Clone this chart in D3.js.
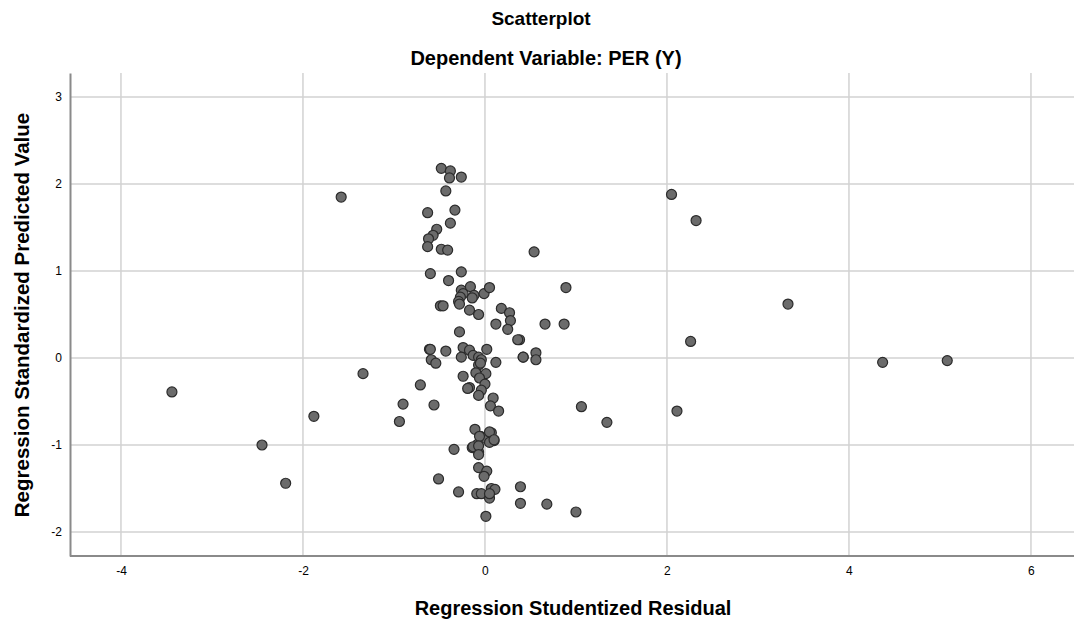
<!DOCTYPE html>
<html>
<head>
<meta charset="utf-8">
<script src="https://cdn.jsdelivr.net/npm/d3@7"></script>
<style>
  body { margin: 0; background: #fff; }
  svg { display: block; font-family: "Liberation Sans", Arial, sans-serif; }
</style>
</head>
<body>
<div id="chart"></div>
<script>
// Studentized residual (x) vs standardized predicted value (y)
const residuals = [
  -3.44, -2.45, -2.19, -1.88, -1.34, -1.58, -0.71, -0.90, -0.94, -0.56,
  -0.61, -0.59, -0.54, -0.51, -0.49,
  2.05, 2.32, 0.54, 0.89, 0.66, 0.87, 2.26, 0.38, 0.42, 0.56, 0.56,
  1.06, 1.34, 2.11, 3.33, 4.37, 5.08,
  -0.11, 0.07, -0.05, 0.00, 0.10, 0.05, -0.08, -0.14, -0.07, -0.34,
  -0.07, 0.02, -0.01, -0.29, -0.09, -0.04, 0.07, 0.11, 0.05, 0.39,
  0.39, 0.68, 1.00, 0.01, 0.05,
  -0.60, -0.26, -0.40, -0.26, -0.24, -0.16, -0.12, -0.14, -0.27, -0.29,
  -0.28, -0.01, 0.05, -0.46, -0.17, -0.07, 0.18, 0.27, 0.28, 0.12,
  0.25, 0.36, -0.28, -0.60, -0.43, -0.24, -0.17, 0.02, -0.26, -0.13,
  -0.07, -0.04, 0.12, 0.42, -0.07,
  -0.05, -0.10, 0.01, -0.24, -0.06, 0.00, -0.17, -0.19, -0.04, -0.07,
  0.09, 0.06, 0.15, 0.05, 0.10, -0.06, -0.13, -0.07, -0.07,
  -0.48, -0.38, -0.39, -0.26, -0.43, -0.63, -0.33, -0.38, -0.53, -0.57,
  -0.62, -0.63, -0.48, -0.41
];
const predicted = [
  -0.39, -1.00, -1.44, -0.67, -0.18, 1.85, -0.31, -0.53, -0.73, -0.54,
  0.10, -0.02, -0.06, -1.39, 0.60,
  1.88, 1.58, 1.22, 0.81, 0.39, 0.39, 0.19, 0.21, 0.01, 0.06, -0.02,
  -0.56, -0.74, -0.61, 0.62, -0.05, -0.03,
  -0.82, -0.86, -0.90, -0.92, -0.95, -0.97, -0.99, -1.03, -1.08, -1.05,
  -1.26, -1.30, -1.36, -1.54, -1.56, -1.56, -1.50, -1.51, -1.61, -1.48,
  -1.67, -1.68, -1.77, -1.82, -1.56,
  0.97, 0.99, 0.89, 0.78, 0.74, 0.82, 0.72, 0.69, 0.70, 0.65,
  0.62, 0.74, 0.81, 0.60, 0.55, 0.50, 0.57, 0.52, 0.43, 0.39,
  0.33, 0.21, 0.30, 0.10, 0.08, 0.12, 0.09, 0.10, 0.01, 0.03,
  0.01, -0.02, -0.05, 0.01, -0.08,
  -0.06, -0.17, -0.18, -0.21, -0.23, -0.30, -0.34, -0.35, -0.37, -0.43,
  -0.46, -0.55, -0.61, -0.85, -0.94, -0.90, -1.02, -1.01, -1.11,
  2.18, 2.15, 2.07, 2.08, 1.92, 1.67, 1.70, 1.55, 1.48, 1.41,
  1.37, 1.28, 1.25, 1.24
];
const xTicks = [-4, -2, 0, 2, 4, 6];
const yTicks = [-2, -1, 0, 1, 2, 3];

const points = residuals.map((r, i) => ({ x: r, y: predicted[i] }));

const width = 1074, height = 621;
const plot = { left: 70, top: 73, bottom: 556 };
const fmt = d => String(d); // plain hyphen minus, no decimals

const svg = d3.select("#chart").append("svg")
  .attr("width", width)
  .attr("height", height);

const x = d3.scaleLinear().domain([-4.56, 6.56]).range([plot.left, plot.left + 11.12 * 91]);
const y = d3.scaleLinear().domain([-2.276, 3.276]).range([plot.bottom, plot.top]);

// ── Gridlines ──
svg.append("g")
  .selectAll("line")
  .data(xTicks)
  .join("line")
  .attr("x1", d => x(d)).attr("x2", d => x(d))
  .attr("y1", plot.top).attr("y2", plot.bottom)
  .attr("stroke", "#d2d2d2")
  .attr("stroke-width", 1.5);

svg.append("g")
  .selectAll("line")
  .data(yTicks)
  .join("line")
  .attr("x1", plot.left).attr("x2", width)
  .attr("y1", d => y(d)).attr("y2", d => y(d))
  .attr("stroke", "#d2d2d2")
  .attr("stroke-width", 1.5);

// ── Axes ──
const xAxis = svg.append("g")
  .attr("transform", `translate(0,${plot.bottom})`)
  .call(d3.axisBottom(x).tickValues(xTicks).tickFormat(fmt).tickSize(0).tickPadding(10));
const yAxis = svg.append("g")
  .attr("transform", `translate(${plot.left},0)`)
  .call(d3.axisLeft(y).tickValues(yTicks).tickFormat(fmt).tickSize(0).tickPadding(8));

[xAxis, yAxis].forEach(g => {
  g.select(".domain").attr("stroke", "#8a8a8a").attr("stroke-width", 2);
  g.selectAll("text")
    .attr("fill", "#000")
    .attr("font-size", "12px")
    .attr("font-family", "'Liberation Sans', Arial, sans-serif");
});
xAxis.select(".domain").attr("d", `M${plot.left},0H${width}`);

// ── Points ──
svg.append("g")
  .selectAll("circle")
  .data(points)
  .join("circle")
  .attr("cx", d => x(d.x))
  .attr("cy", d => y(d.y))
  .attr("r", 5)
  .attr("fill", "#6b6b6b")
  .attr("stroke", "#2b2b2b")
  .attr("stroke-width", 1.2);

// ── Titles ──
svg.append("text")
  .attr("x", 541).attr("y", 25)
  .attr("text-anchor", "middle")
  .attr("font-size", "19px")
  .attr("font-weight", "bold")
  .attr("fill", "#000")
  .text("Scatterplot");

svg.append("text")
  .attr("x", 546).attr("y", 65)
  .attr("text-anchor", "middle")
  .attr("font-size", "20px")
  .attr("font-weight", "bold")
  .attr("fill", "#000")
  .text("Dependent Variable: PER (Y)");

svg.append("text")
  .attr("x", 573).attr("y", 615)
  .attr("text-anchor", "middle")
  .attr("font-size", "20px")
  .attr("font-weight", "bold")
  .attr("fill", "#000")
  .text("Regression Studentized Residual");

svg.append("text")
  .attr("transform", `translate(29,315) rotate(-90)`)
  .attr("text-anchor", "middle")
  .attr("font-size", "20.5px")
  .attr("font-weight", "bold")
  .attr("fill", "#000")
  .text("Regression Standardized Predicted Value");
</script>
</body>
</html>
